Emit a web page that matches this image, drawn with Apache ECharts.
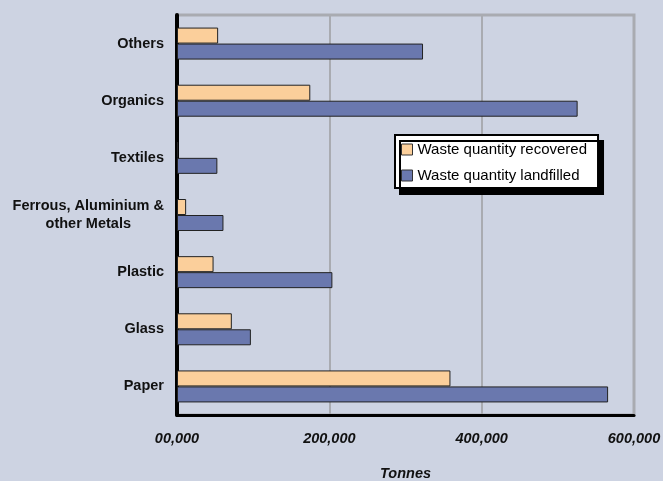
<!DOCTYPE html>
<html>
<head>
<meta charset="utf-8">
<script src="https://cdn.jsdelivr.net/npm/echarts@6/dist/echarts.min.js"></script>
<style>
html,body{margin:0;padding:0;background:#cdd3e2;}
#c{width:663px;height:481px;}
</style>
</head>
<body>
<div id="c"></div>
<script>
var categories = ['Paper','Glass','Plastic','Ferrous, Aluminium &\nother Metals','Textiles','Organics','Others'];
var recovered = [359000, 72000, 48000, 12000, 1500, 175000, 54000];
var landfilled = [566000, 97000, 204000, 61000, 53000, 526000, 323000];
var xTickLabels = ['00,000','200,000','400,000','600,000'];
var seriesNames = ['Waste quantity recovered','Waste quantity landfilled'];

var chart = echarts.init(document.getElementById('c'));
var font = 'Liberation Sans, Arial, Helvetica, sans-serif';
chart.setOption({
  backgroundColor: '#cdd3e2',
  animation: false,
  grid: {
    left: 177, right: 29, top: 15, bottom: 66,
    outerBoundsMode: 'none',
    containLabel: false,
    show: true, borderColor: '#a9abb1', borderWidth: 3, backgroundColor: 'transparent'
  },
  legend: {
    orient: 'vertical',
    left: 395, top: 135,
    data: seriesNames,
    icon: 'rect',
    backgroundColor: '#ffffff',
    borderColor: '#000000',
    borderWidth: 2,
    borderRadius: 0,
    padding: [7, 11, 5, 6],
    itemGap: 11,
    itemWidth: 11,
    itemHeight: 11,
    shadowColor: '#000000',
    shadowBlur: 0,
    shadowOffsetX: 5,
    shadowOffsetY: 6,
    textStyle: {fontFamily: font, fontSize: 15, color: '#000'},
    itemStyle: {borderColor: '#333', borderWidth: 1}
  },
  xAxis: {
    type: 'value',
    min: 0, max: 600000, interval: 200000,
    name: 'Tonnes',
    nameLocation: 'middle',
    nameGap: 51,
    nameTextStyle: {fontFamily: font, fontSize: 14.5, fontWeight: 'bold', fontStyle: 'italic', color: '#111'},
    axisLine: {show: true, lineStyle: {color: '#000', width: 3}},
    axisTick: {show: false},
    splitLine: {show: true, lineStyle: {color: '#a9abb1', width: 2}},
    axisLabel: {
      margin: 16,
      fontFamily: font, fontSize: 14.5, fontWeight: 'bold', fontStyle: 'italic', color: '#111',
      formatter: function (v) { return xTickLabels[Math.round(v / 200000)]; }
    }
  },
  yAxis: {
    type: 'category',
    data: categories,
    axisLine: {show: true, lineStyle: {color: '#000', width: 4}},
    axisTick: {show: false},
    axisLabel: {
      margin: 13,
      fontFamily: font, fontSize: 14.5, fontWeight: 'bold', color: '#111',
      lineHeight: 18,
      formatter: function (v) {
        if (v.indexOf('\n') >= 0) {
          return v.split('\n').map(function (s) { return '{c|' + s + '}'; }).join('\n');
        }
        return v;
      },
      rich: {
        c: {align: 'center', fontFamily: font, fontSize: 14.5, fontWeight: 'bold', color: '#111', lineHeight: 18}
      }
    }
  },
  series: [
    {
      name: seriesNames[0], type: 'bar', data: recovered,
      barWidth: 16, barGap: '0%',
      itemStyle: {color: '#fbcf9b', borderColor: '#222', borderWidth: 1}
    },
    {
      name: seriesNames[1], type: 'bar', data: landfilled,
      barWidth: 16, barGap: '0%',
      itemStyle: {color: '#6a78ae', borderColor: '#222', borderWidth: 1}
    }
  ]
});
</script>
</body>
</html>
